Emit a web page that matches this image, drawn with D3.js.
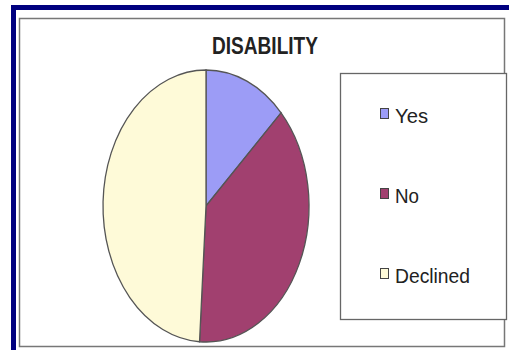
<!DOCTYPE html>
<html>
<head>
<meta charset="utf-8">
<script src="https://cdn.jsdelivr.net/npm/d3@7"></script>
<style>
  html, body { margin: 0; padding: 0; background: #fff; }
  svg { display: block; }
</style>
</head>
<body>
<svg width="509" height="350"></svg>
<script>
// Values (share of responses)
const categories = ['Yes', 'No', 'Declined']
const values = [13, 38, 49]
const colors = ['#9c9cf6', '#a1406f', '#fefad8']
const title = 'DISABILITY'

const svg = d3.select('svg')

// Outer navy frame (only top and left edges show in the picture)
svg.append('rect')
  .attr('x', 11).attr('y', 5).attr('width', 498).attr('height', 5)
  .attr('fill', '#00007f')
svg.append('rect')
  .attr('x', 11).attr('y', 5).attr('width', 5).attr('height', 345)
  .attr('fill', '#00007f')

// Chart area border
svg.append('rect')
  .attr('x', 19.5).attr('y', 18.5).attr('width', 485).attr('height', 328)
  .attr('fill', '#fff')
  .attr('stroke', '#777')
  .attr('stroke-width', 1.5)

svg.append('text')
  .attr('x', 265).attr('y', 54)
  .attr('text-anchor', 'middle')
  .attr('font-family', 'Liberation Sans, Arial, sans-serif')
  .attr('font-weight', 'bold')
  .attr('font-size', 23)
  .attr('textLength', 106)
  .attr('lengthAdjust', 'spacingAndGlyphs')
  .attr('fill', '#222')
  .text(title)

// Pie drawn as a circle, then squashed into the ellipse seen in the picture
const rx = 103, ry = 136
const pie = d3.pie().sort(null).value(d => d)
const arc = d3.arc().innerRadius(0).outerRadius(ry)

const group = svg.append('g')
  .attr('transform', `translate(206,206) scale(${rx / ry},1)`)

group.selectAll('path')
  .data(pie(values))
  .join('path')
  .attr('d', arc)
  .attr('fill', (d, i) => colors[i])
  .attr('stroke', '#555')
  .attr('stroke-width', 1.3)
  .attr('vector-effect', 'non-scaling-stroke')

// Legend
svg.append('rect')
  .attr('x', 340.5).attr('y', 73.5).attr('width', 166).attr('height', 246)
  .attr('fill', '#fff')
  .attr('stroke', '#666')
  .attr('stroke-width', 1.3)

const y = d3.scalePoint().domain(categories).range([123, 283])

const item = svg.selectAll('g.item')
  .data(categories)
  .join('g')
  .attr('class', 'item')
  .attr('transform', d => `translate(0,${y(d)})`)

item.append('rect')
  .attr('x', 380.5).attr('y', -14.5).attr('width', 8).attr('height', 10)
  .attr('fill', (d, i) => colors[i])
  .attr('stroke', '#444')
  .attr('stroke-width', 1)

item.append('text')
  .attr('x', 395).attr('y', 0)
  .attr('font-family', 'Liberation Sans, Arial, sans-serif')
  .attr('font-size', 21)
  .attr('fill', '#222')
  .attr('textLength', d => ({ Yes: 33, No: 24, Declined: 75 })[d])
  .attr('lengthAdjust', 'spacingAndGlyphs')
  .text(d => d)
</script>
</body>
</html>
